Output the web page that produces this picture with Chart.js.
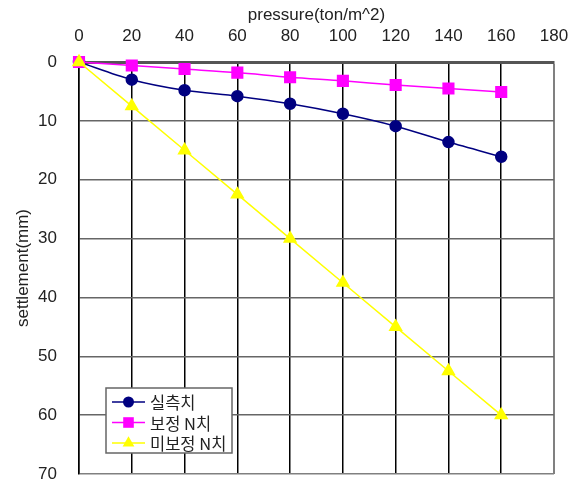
<!DOCTYPE html>
<html>
<head>
<meta charset="utf-8">
<script src="https://cdn.jsdelivr.net/npm/chart.js@4.4.0/dist/chart.umd.min.js"></script>
<style>
  html, body { margin: 0; padding: 0; background: #fff; }
  #wrap { width: 578px; height: 484px; }
</style>
</head>
<body>
<div id="wrap"><canvas id="settleChart" width="578" height="484"></canvas></div>
<script>
// pressure steps (ton/m^2) and settlement readings (mm)
const pressure = [0, 20, 40, 60, 80, 100, 120, 140, 160];
const measured = [0, 3.0, 4.8, 5.8, 7.1, 8.8, 10.9, 13.6, 16.1];
const correctedN = [0, 0.6, 1.2, 1.8, 2.6, 3.2, 3.9, 4.5, 5.1];
const uncorrectedN = [0, 7.5, 15, 22.5, 30, 37.5, 45, 52.5, 60];
const seriesNames = ['실측치', '보정 N치', '미보정 N치'];

const tickFont = { family: "'Liberation Sans', Arial, sans-serif", size: 17 };

function toPoints(values) {
    return values.map((v, i) => ({ x: pressure[i], y: v }));
}

// legend box drawn inside the plot, lower left
const insideLegend = {
    id: 'insideLegend',
    afterDatasetsDraw(chart) {
        const c = chart.ctx;
        const box = { x: 106, y: 388, w: 126, h: 65 };
        c.save();
        c.fillStyle = '#fff';
        c.fillRect(box.x, box.y, box.w, box.h);
        c.strokeStyle = '#666';
        c.lineWidth = 1.5;
        c.strokeRect(box.x, box.y, box.w, box.h);
        chart.data.datasets.forEach((ds, i) => {
            const cy = 402 + i * 20.5;
            c.strokeStyle = ds.borderColor;
            c.lineWidth = ds.borderWidth;
            c.beginPath();
            c.moveTo(112, cy);
            c.lineTo(145, cy);
            c.stroke();
            c.fillStyle = ds.pointBackgroundColor;
            Chart.helpers.drawPoint(c, {
                pointStyle: ds.pointStyle,
                radius: ds.pointRadius,
                borderWidth: 0
            }, 128.5, cy);
            c.fillStyle = '#222';
            c.font = "16.5px 'Noto Sans CJK KR', sans-serif";
            c.textBaseline = 'middle';
            c.fillText(ds.label, 150, cy + 1);
        });
        c.restore();
    }
};

new Chart(document.getElementById('settleChart'), {
    type: 'line',
    data: {
        datasets: [
            {
                label: seriesNames[0],
                data: toPoints(measured),
                borderColor: '#000080',
                pointBackgroundColor: '#000080',
                pointBorderColor: '#000080',
                borderWidth: 1.5,
                pointStyle: 'circle',
                pointRadius: 5.5,
                tension: 0.3,
                order: 3
            },
            {
                label: seriesNames[1],
                data: toPoints(correctedN),
                borderColor: '#ff00ff',
                pointBackgroundColor: '#ff00ff',
                pointBorderColor: '#ff00ff',
                borderWidth: 1.5,
                pointStyle: 'rect',
                pointRadius: 7.5,
                tension: 0.3,
                order: 2
            },
            {
                label: seriesNames[2],
                data: toPoints(uncorrectedN),
                borderColor: '#ffff00',
                pointBackgroundColor: '#ffff00',
                pointBorderColor: '#ffff00',
                borderWidth: 1.5,
                pointStyle: 'triangle',
                pointRadius: 6.8,
                tension: 0,
                order: 1
            }
        ]
    },
    options: {
        responsive: false,
        animation: false,
        clip: false,
        layout: { autoPadding: false, padding: { left: 0, right: 24, top: 0, bottom: 10 } },
        plugins: {
            legend: { display: false },
            tooltip: { enabled: false }
        },
        scales: {
            x: {
                type: 'linear',
                position: 'top',
                min: 0,
                max: 180,
                afterFit(axis) {
                    axis.height = 62;
                    axis.paddingLeft = 0;
                    axis.paddingRight = 0;
                },
                ticks: { stepSize: 20, color: '#222', font: tickFont, padding: 15 },
                title: {
                    display: true,
                    text: 'pressure(ton/m^2)',
                    color: '#222',
                    font: tickFont,
                    padding: { top: 5, bottom: 0 }
                },
                grid: {
                    drawTicks: false,
                    color: ctx => ctx.tick && ctx.tick.value === 180 ? '#808080' : '#000',
                    lineWidth: ctx => ctx.tick && ctx.tick.value === 180 ? 2 : 1.5
                },
                border: { color: '#555', width: 3 }
            },
            y: {
                reverse: true,
                min: 0,
                max: 70,
                afterFit(axis) {
                    axis.width = 79;
                    axis.paddingTop = 0;
                    axis.paddingBottom = 0;
                },
                ticks: { stepSize: 10, color: '#222', font: tickFont, padding: 22 },
                title: {
                    display: true,
                    text: 'settlement(mm)',
                    color: '#222',
                    font: tickFont,
                    padding: { top: 13, bottom: 0 }
                },
                grid: {
                    drawTicks: false,
                    color: ctx => {
                        if (!ctx.tick) return '#666';
                        if (ctx.tick.value === 0) return '#555';
                        if (ctx.tick.value === 70) return '#808080';
                        return '#666';
                    },
                    lineWidth: ctx => ctx.tick && ctx.tick.value === 0 ? 3 : 1.5
                },
                border: { color: '#000', width: 1.5 }
            }
        }
    },
    plugins: [insideLegend]
});
</script>
</body>
</html>
